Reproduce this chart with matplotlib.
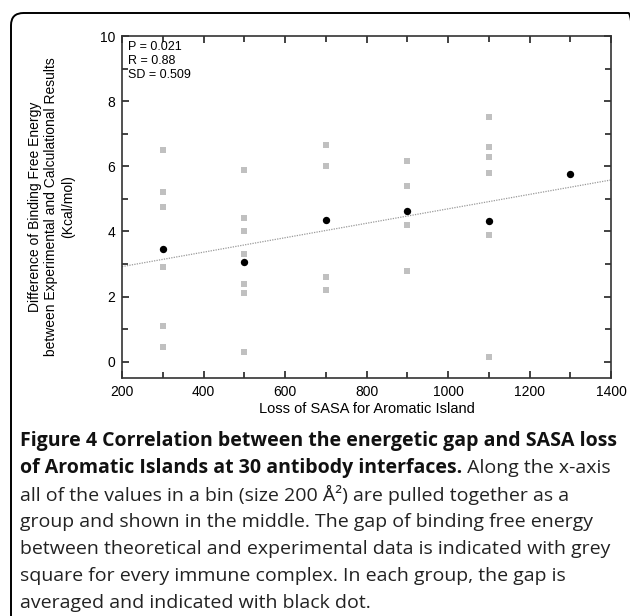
import numpy as np
import matplotlib.pyplot as plt
from matplotlib.patches import FancyBboxPatch
from matplotlib.ticker import MultipleLocator

# данные: серые квадраты (каждый комплекс) и средние по группам
sq_x = [300] * 6 + [500] * 7 + [700] * 4 + [900] * 4 + [1100] * 6
sq_y = [6.5, 5.2, 4.75, 2.9, 1.1, 0.45,
        5.9, 4.4, 4.0, 3.3, 2.4, 2.1, 0.3,
        6.65, 6.0, 2.6, 2.2,
        6.15, 5.4, 4.2, 2.8,
        7.5, 6.6, 6.3, 5.8, 3.9, 0.15]
mean_x = [300, 500, 700, 900, 1100, 1300]
mean_y = [3.45, 3.05, 4.35, 4.62, 4.32, 5.75]
fit_x = [200, 1400]
fit_y = [2.92, 5.58]

stats_text = "P = 0.021\nR = 0.88\nSD = 0.509"

caption = [
    ("Figure 4 Correlation between the energetic gap and SASA loss", ""),
    ("of Aromatic Islands at 30 antibody interfaces.", " Along the x-axis"),
    ("", "all of the values in a bin (size 200 Å²) are pulled together as a"),
    ("", "group and shown in the middle. The gap of binding free energy"),
    ("", "between theoretical and experimental data is indicated with grey"),
    ("", "square for every immune complex. In each group, the gap is"),
    ("", "averaged and indicated with black dot."),
]

W, H = 630, 616
fig = plt.figure(figsize=(W / 100, H / 100), dpi=100)

# рамка со скруглёнными углами
box = FancyBboxPatch((11 / W, -0.1), 1.0, 1.1 - 13 / H,
                     boxstyle="round,pad=0,rounding_size=0.02",
                     transform=fig.transFigure, fill=False,
                     edgecolor="black", linewidth=1.4)
fig.patches.append(box)

ax = fig.add_axes([122 / W, 1 - 378 / H, (611 - 122) / W, (378 - 36) / H])
ax.scatter(sq_x, sq_y, marker="s", s=22, color="#c0c0c0", linewidths=0, zorder=2)
ax.scatter(mean_x, mean_y, marker="o", s=28, color="black", linewidths=0, zorder=3)
ax.plot(fit_x, fit_y, linestyle=(0, (1, 1)), color="#999999", linewidth=0.9, zorder=1)

ax.set_xlim(200, 1400)
ax.set_ylim(-0.5, 10)
ax.xaxis.set_major_locator(MultipleLocator(200))
ax.xaxis.set_minor_locator(MultipleLocator(100))
ax.yaxis.set_major_locator(MultipleLocator(2))
ax.yaxis.set_minor_locator(MultipleLocator(1))
ax.tick_params(which="both", direction="in", top=True, right=True,
               labelsize=10, width=1.2, color="#222222", pad=5)
ax.tick_params(which="major", length=5)
ax.tick_params(which="minor", length=4)
for s in ax.spines.values():
    s.set_linewidth(1.2)
    s.set_color("#333333")

fnt = "Liberation Sans"
for lab in ax.get_xticklabels() + ax.get_yticklabels():
    lab.set_fontfamily(fnt)

ax.set_xlabel("Loss of SASA for Aromatic Island", fontfamily=fnt, fontsize=10.5, labelpad=2)
ax.set_ylabel("Difference of Binding Free Energy\nbetween Experimental and Calculational Results\n(Kcal/mol)",
              fontfamily=fnt, fontsize=10, labelpad=18, linespacing=1.2)
ax.text(0.012, 0.985, stats_text, transform=ax.transAxes, ha="left", va="top",
        fontfamily=fnt, fontsize=9, linespacing=1.2)

# подпись к рисунку: размер шрифта подгоняется под ширину первой строки
cap_font = "Open Sans"
renderer = fig.canvas.get_renderer()
probe = fig.text(0, 0, caption[0][0], fontfamily=cap_font, fontweight="bold", fontsize=10)
pw = probe.get_window_extent(renderer).width
probe.remove()
cap_size = 10 * (617 - 20) / pw

x0 = 20 / W
for i, (bold, normal) in enumerate(caption):
    y = 1 - (441 + 27 * i) / H
    x = x0
    if bold:
        t = fig.text(x, y, bold, fontfamily=cap_font, fontweight="bold",
                     fontsize=cap_size, va="center", ha="left", color="#111111")
        bb = t.get_window_extent(renderer)
        x = bb.x1 / W
    if normal:
        fig.text(x, y, normal, fontfamily=cap_font, fontsize=cap_size,
                 va="center", ha="left", color="#222222")

fig.savefig("out.png", dpi=100)
